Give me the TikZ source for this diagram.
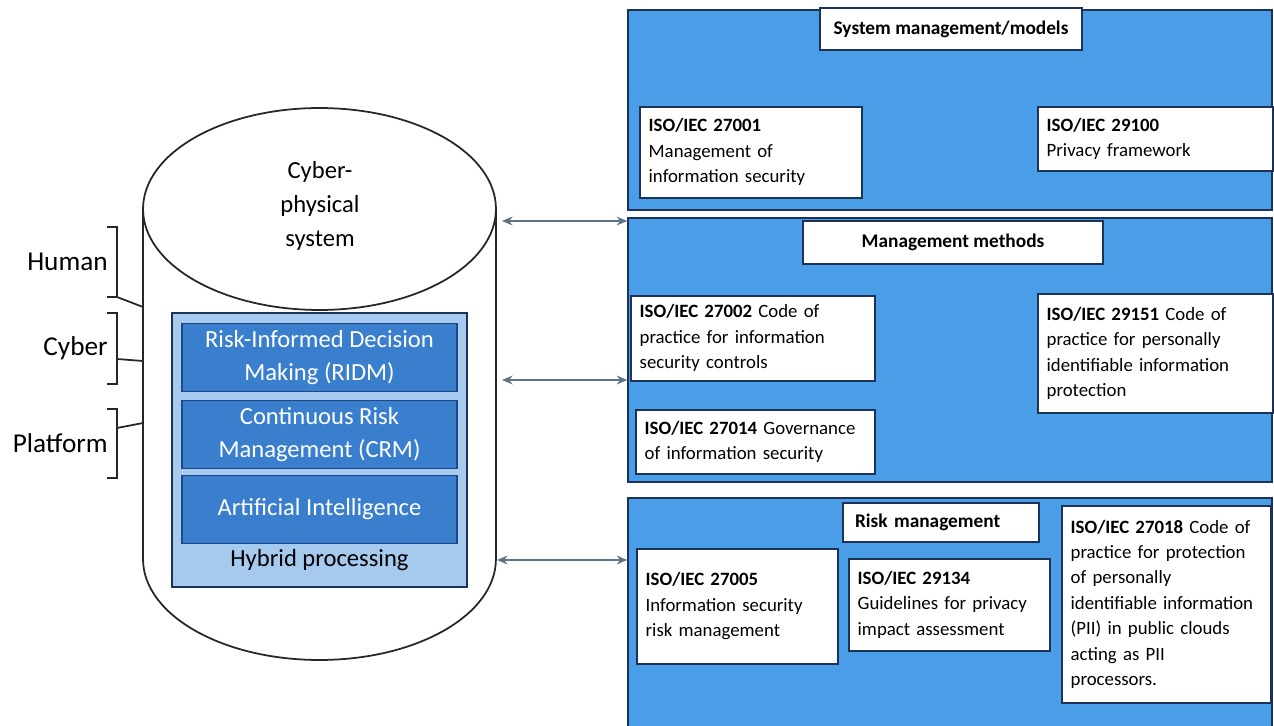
\documentclass[tikz,border=0pt]{standalone}
\usepackage{fontspec}
\setmainfont{Carlito}
\usetikzlibrary{arrows.meta,fit}
\definecolor{panelBlue}{RGB}{74,158,232}
\definecolor{navyLine}{RGB}{28,50,86}
\definecolor{layerBlue}{RGB}{58,126,206}
\definecolor{layerLine}{RGB}{30,72,132}
\definecolor{hybBlue}{RGB}{166,201,238}
\definecolor{arrowGray}{RGB}{92,116,134}

\begin{document}
\begin{tikzpicture}[x=0.02cm, y=-0.02cm,
    panelBox/.style={draw=navyLine, fill=panelBlue, line width=0.8pt, inner sep=0pt},
    titleBox/.style={draw=navyLine, fill=white, line width=1pt, inner sep=0pt, font=\bfseries\fontsize{11}{13}\selectfont},
    isoBox/.style={draw=navyLine, fill=white, line width=1pt, anchor=north west, align=left, inner xsep=5pt, inner ysep=0pt, font=\fontsize{10.7}{14.5}\selectfont},
    layerBox/.style={draw=layerLine, fill=layerBlue, line width=0.8pt, text=white, align=center, minimum width=5.5cm, minimum height=1.36cm, inner sep=0pt, font=\fontsize{14}{18.7}\selectfont},
    sideLbl/.style={anchor=east, inner sep=0pt, font=\fontsize{15.5}{18}\selectfont},
    brkLine/.style={line width=1pt, black!85},
    biArrow/.style={{Stealth[length=6pt,width=5pt]}-{Stealth[length=6pt,width=5pt]}, arrowGray, line width=1.1pt}]

    \useasboundingbox (0,0) rectangle (1274,726);

    \draw[brkLine, fill=white] (143,209) -- (143,559) arc[start angle=180, end angle=360, x radius=3.53cm, y radius=2.02cm] -- (496,209);
    \draw[brkLine, fill=white] (319.5,209) ellipse [x radius=3.53cm, y radius=2.02cm];
    \node[align=center, font=\fontsize{14}{19.3}\selectfont] (cpsLbl) at (320,206) {Cyber-\\physical\\system};

    \node[draw=navyLine, fill=hybBlue, line width=0.8pt, inner sep=0pt, fit={(172,313) (467,587)}] (hybBox) {};
    \foreach \nm/\yc/\txt in {ridm/357.5/{Risk-Informed Decision\\Making (RIDM)}, crm/434.5/{Continuous Risk\\Management (CRM)}, ai/509.5/{Artificial Intelligence}} {
        \node[layerBox] (\nm) at (319.5,\yc) {\txt};
    }
    \node[font=\fontsize{14}{17}\selectfont] (hybLbl) at (319.5,560) {Hybrid processing};

    \foreach \nm/\lbl/\ya/\yb in {hum/Human/227/297, cyb/Cyber/313/384, plt/Platform/409/478} {
        \draw[brkLine] (107,\ya) -- (117,\ya) -- (117,\yb) -- (107,\yb);
        \node[sideLbl] (\nm) at (108,{(\ya+\yb)/2}) {\lbl};
    }
    \draw[brkLine] (117,297) -- (143,307);
    \draw[brkLine] (117,359) -- (143,361);
    \draw[brkLine] (117,428) -- (143,423);

    \node[panelBox, fit={(628,10) (1272,210)}] (pnlSys) {};
    \node[panelBox, fit={(628,218) (1272,482)}] (pnlMgmt) {};
    \node[panelBox, fit={(628,498) (1272,732)}] (pnlRisk) {};

    \node[titleBox, minimum width=5.24cm, minimum height=0.84cm] (ttlSys) at (951,29) {System management/models};
    \node[titleBox, minimum width=6cm, minimum height=0.86cm] (ttlMgmt) at (953,242.5) {Management methods};
    \node[titleBox, align=left, text width=3.44cm, inner xsep=0.24cm, minimum height=0.78cm] (ttlRisk) at (941,522.5) {Risk management};

    \node[isoBox, text width=4.09cm, minimum height=1.82cm] (iso27001) at (639,106) {\textbf{ISO/IEC 27001}\\Management of\\information security};
    \node[isoBox, text width=4.35cm, minimum height=1.28cm] (iso29100) at (1037,106) {\textbf{ISO/IEC 29100}\\Privacy framework};
    \node[isoBox, text width=4.53cm, minimum height=1.70cm] (iso27002) at (630,295) {\textbf{ISO/IEC 27002} Code of\\practice for information\\security controls};
    \node[isoBox, text width=4.43cm, minimum height=1.28cm] (iso27014) at (635,409) {\textbf{ISO/IEC 27014} Governance\\of information security};
    \node[isoBox, text width=4.35cm, minimum height=2.38cm] (iso29151) at (1037,293) {\textbf{ISO/IEC 29151} Code of\\practice for personally\\identifiable information\\protection};
    \node[isoBox, text width=3.67cm, minimum height=2.30cm] (iso27005) at (636,548) {\textbf{ISO/IEC 27005}\\Information security\\risk management};
    \node[isoBox, text width=3.67cm, minimum height=1.84cm] (iso29134) at (848,558) {\textbf{ISO/IEC 29134}\\Guidelines for privacy\\impact assessment};
    \node[isoBox, text width=3.83cm, minimum height=3.94cm] (iso27018) at (1061,505) {\textbf{ISO/IEC 27018} Code of\\practice for protection\\of personally\\identifiable information\\(PII) in public clouds\\acting as PII\\processors.};

    \coordinate (cylA) at (502,221);
    \coordinate (cylB) at (502,380);
    \coordinate (cylC) at (497,560);
    \draw[biArrow] (cylA) -- (cylA -| pnlMgmt.west);
    \draw[biArrow] (cylB) -- (cylB -| pnlMgmt.west);
    \draw[biArrow] (cylC) -- (cylC -| pnlRisk.west);
\end{tikzpicture}
\end{document}
